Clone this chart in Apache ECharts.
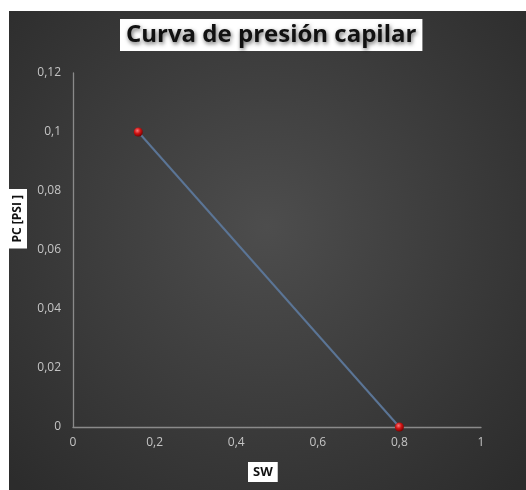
<!DOCTYPE html>
<html>
<head>
<meta charset="utf-8">
<script src="https://cdn.jsdelivr.net/npm/echarts@6/dist/echarts.min.js"></script>
<style>
  html, body { margin: 0; padding: 0; background: #ffffff; }
  #chart { position: absolute; left: 9px; top: 11px; width: 517px; height: 479px; }
</style>
</head>
<body>
<div id="chart"></div>
<script>
// Saturación de agua (SW) y presión capilar (PC)
const swValues = [0.16, 0.8];
const pcValues = [0.1, 0];
const xTicks = [0, 0.2, 0.4, 0.6, 0.8, 1];
const yTicks = [0, 0.02, 0.04, 0.06, 0.08, 0.1, 0.12];
const chartTitle = 'Curva de presión capilar';
const xTitle = 'SW';
const yTitle = 'PC [PSI ]';

const fmt = v => String(+v.toFixed(2)).replace('.', ',');
const points = swValues.map((x, i) => [x, pcValues[i]]);

const chart = echarts.init(document.getElementById('chart'));
const labelStyle = { color: '#c4c4c4', fontSize: 12, fontFamily: 'Open Sans, sans-serif' };

chart.setOption({
  backgroundColor: {
    type: 'radial', x: 0.5, y: 0.45, r: 0.75,
    colorStops: [
      { offset: 0, color: '#4d4d4d' },
      { offset: 1, color: '#2c2c2c' }
    ]
  },
  animation: false,
  title: {
    text: chartTitle,
    left: 111, top: 8,
    backgroundColor: '#ffffff',
    padding: [4, 6, 4, 6],
    textStyle: {
      color: '#111111', fontSize: 24, fontWeight: 'bold',
      fontFamily: 'Open Sans, sans-serif',
      textShadowColor: 'rgba(0,0,0,0.6)', textShadowBlur: 4,
      textShadowOffsetX: 1, textShadowOffsetY: 2
    }
  },
  grid: { left: 64, right: 45, top: 62, bottom: 63 },
  xAxis: {
    type: 'value', min: 0, max: 1, interval: 0.2,
    axisLine: { show: true, lineStyle: { color: '#8a8a8a', width: 1.3 } },
    axisTick: { show: false },
    splitLine: { show: false },
    axisLabel: Object.assign({ margin: 10, formatter: v => xTicks.includes(+v.toFixed(2)) ? fmt(v) : '' }, labelStyle)
  },
  yAxis: {
    type: 'value', min: 0, max: 0.12, interval: 0.02,
    axisLine: { show: true, lineStyle: { color: '#8a8a8a', width: 1.3 } },
    axisTick: { show: false },
    splitLine: { show: false },
    axisLabel: Object.assign({ margin: 12, formatter: v => yTicks.includes(+v.toFixed(2)) ? fmt(v) : '' }, labelStyle)
  },
  graphic: [
    {
      type: 'text', left: -1, top: 178,
      rotation: Math.PI / 2,
      style: {
        text: yTitle, fill: '#111111', font: 'bold 12px "Open Sans", sans-serif',
        backgroundColor: '#ffffff', padding: [4, 6, 3, 6]
      }
    },
    {
      type: 'text', left: 239, top: 451,
      style: {
        text: xTitle, fill: '#111111', font: 'bold 13px "Open Sans", sans-serif',
        backgroundColor: '#ffffff', padding: [4, 5, 3, 5]
      }
    }
  ],
  series: [{
    type: 'line',
    data: points,
    symbol: 'circle',
    symbolSize: 9,
    lineStyle: { color: '#5b7596', width: 2 },
    itemStyle: {
      color: {
        type: 'radial', x: 0.4, y: 0.35, r: 0.65,
        colorStops: [
          { offset: 0, color: '#ff7a7a' },
          { offset: 0.5, color: '#d01515' },
          { offset: 1, color: '#7a0000' }
        ]
      },
      borderWidth: 0
    }
  }]
});
</script>
</body>
</html>
